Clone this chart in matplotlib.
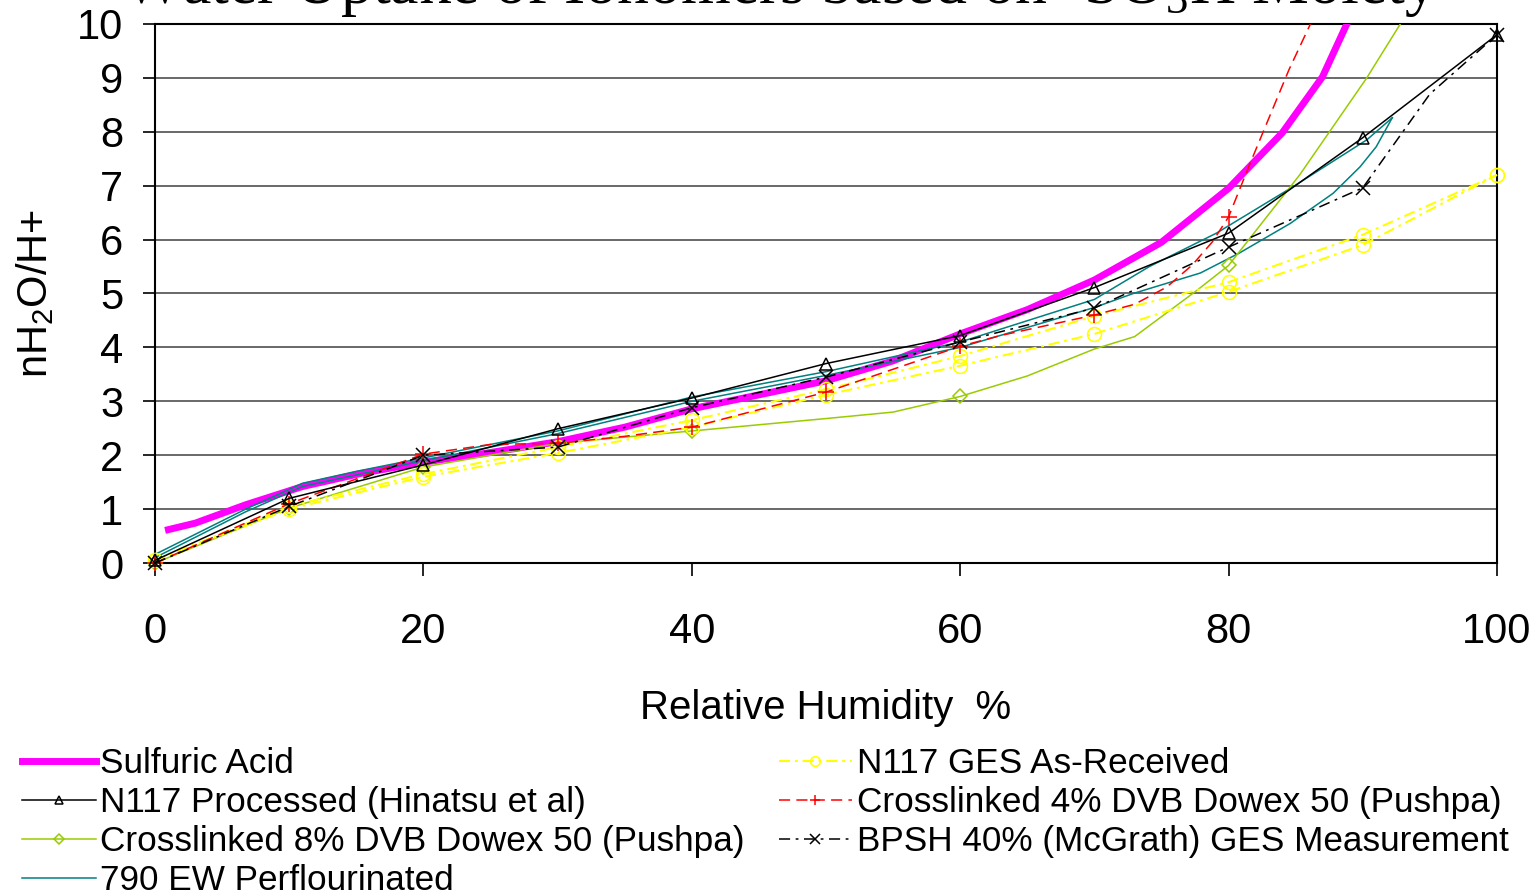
"""
Water uptake of ionomers (nH2O/H+ vs relative humidity).
"""
import matplotlib
matplotlib.use('Agg')
import matplotlib.pyplot as plt
from matplotlib.transforms import Bbox, TransformedBbox

plt.rcParams['font.family'] = ['Liberation Sans', 'DejaVu Sans']
plt.rcParams['lines.scale_dashes'] = False

# Datos
rh_acid = [1, 3, 6.75, 11, 15.3, 20, 25, 30, 35, 40, 45, 50, 55, 60, 65, 70, 75, 80, 84, 87, 89]
h2o_acid = [0.62, 0.74, 1.08, 1.42, 1.66, 1.87, 2.05, 2.25, 2.52, 2.86, 3.12, 3.38, 3.75, 4.25,
            4.7, 5.25, 5.95, 6.95, 7.98, 9.02, 10.1]

rh_n117 = [0, 10, 20, 30, 40, 50, 60, 70, 80, 90, 100]
h2o_n117 = [0.05, 1.2, 1.82, 2.49, 3.06, 3.7, 4.22, 5.11, 6.12, 7.89, 9.8]

rh_dvb8 = [0, 10, 20, 30, 40, 50, 55, 60, 65, 70, 73, 77.6, 80, 85.3, 90.3, 92.8]
h2o_dvb8 = [0, 1.02, 1.78, 2.22, 2.45, 2.68, 2.8, 3.09, 3.47, 3.97, 4.2, 5.05, 5.52, 7.2, 9.0, 10.0]
dvb8_marks = [0, 1, 2, 4, 7, 12]

rh_790_up = [0, 6.75, 11, 15, 20, 30, 40, 50, 60, 70, 74.1, 79.1, 84.8, 90.3, 92.2]
h2o_790_up = [0.16, 1.0, 1.48, 1.7, 1.95, 2.45, 3.08, 3.55, 4.1, 4.89, 5.5, 6.12, 6.98, 7.85, 8.26]
rh_790_down = [92.2, 91, 89.8, 87.8, 84.6, 80.8, 77.9, 72.9, 70, 60, 50, 40, 30, 20, 11, 6.75, 0]
h2o_790_down = [8.26, 7.72, 7.35, 6.86, 6.3, 5.75, 5.38, 5.0, 4.74, 4.0, 3.48, 3.0, 2.4, 1.9,
                1.42, 0.95, 0.1]

rh_ges = [0, 10, 20, 30, 40, 50, 60, 70, 80, 90, 100]
h2o_ges_a = [0.05, 1.05, 1.65, 2.15, 2.65, 3.22, 3.84, 4.58, 5.21, 6.09, 7.2]
h2o_ges_b = [0.05, 1.0, 1.6, 2.04, 2.52, 3.12, 3.66, 4.25, 5.03, 5.9, 7.2]

rh_dvb4 = [0, 10, 20, 25, 30, 35, 40, 50, 60, 63, 70, 73, 75.4, 77.3, 78.8, 80, 81.5, 83, 84.5, 86.1]
h2o_dvb4 = [0, 1.1, 2.02, 2.2, 2.22, 2.35, 2.52, 3.17, 4.02, 4.22, 4.6, 4.8, 5.12, 5.53, 5.96,
            6.42, 7.35, 8.25, 9.15, 10.0]
dvb4_marks = [0, 1, 2, 4, 6, 7, 8, 10, 15]

rh_bpsh = [0, 10, 20, 30, 40, 50, 60, 70, 80, 90, 95, 100]
h2o_bpsh = [0, 1.05, 2.0, 2.15, 2.88, 3.45, 4.1, 4.73, 5.86, 6.96, 8.7, 9.8]
bpsh_marks = [0, 1, 2, 3, 4, 5, 6, 7, 8, 9, 11]

fig = plt.figure(figsize=(15.35, 8.91), dpi=100)
ax = fig.add_axes([0.101, 0.3681, 0.8742, 0.605])
ax.set_xlim(0, 100)
ax.set_ylim(0, 10)

# recorte solo por arriba (los marcadores de los bordes se ven enteros)
clip = TransformedBbox(Bbox([[-5, -1], [105, 10]]), ax.transData)


def add_series(x, y, color, lw=1.1, dashes=None, marker=None, marks=None, ms=8, label=None):
    line, = ax.plot(x, y, color=color, lw=lw, marker=marker, markevery=marks, ms=ms,
                    markerfacecolor='none', markeredgecolor=color, markeredgewidth=1.1,
                    label=label, zorder=3)
    if dashes:
        line.set_dashes(dashes)
    line.set_clip_box(clip)
    return line


h_acid = add_series(rh_acid, h2o_acid, '#ff00ff', lw=5, label='Sulfuric Acid')
h_790 = add_series(rh_790_up, h2o_790_up, '#008080', label='790 EW Perflourinated')
add_series(rh_790_down, h2o_790_down, '#008080')
h_dvb8 = add_series(rh_dvb8, h2o_dvb8, '#99cc00', marker='D', marks=dvb8_marks, ms=7,
                    label='Crosslinked 8% DVB Dowex 50 (Pushpa)')
h_ges = add_series(rh_ges, h2o_ges_a, '#ffff00', lw=1.5, dashes=(8, 3.5, 2, 3.5), marker='o',
                   ms=10, label='N117 GES As-Received')
add_series(rh_ges, h2o_ges_b, '#ffff00', lw=1.5, dashes=(8, 3.5, 2, 3.5), marker='o', ms=10)
h_dvb4 = add_series(rh_dvb4, h2o_dvb4, '#ff0000', dashes=(8, 4.5), marker='+', marks=dvb4_marks,
                    ms=11, label='Crosslinked 4% DVB Dowex 50 (Pushpa)')
h_bpsh = add_series(rh_bpsh, h2o_bpsh, 'black', dashes=(8, 4, 2, 4), marker='x', marks=bpsh_marks,
                    ms=10, label='BPSH 40% (McGrath) GES Measurement')
h_n117 = add_series(rh_n117, h2o_n117, 'black', marker='^', ms=9,
                    label='N117 Processed (Hinatsu et al)')

# ejes y rejilla
ax.set_xticks(range(0, 101, 20))
ax.set_yticks(range(0, 11))
ax.yaxis.grid(True, color='#404040', lw=1.1)
ax.set_axisbelow(True)
for sp in ax.spines.values():
    sp.set_linewidth(1.5)
ax.tick_params(axis='both', direction='out', length=9, width=1.2, labelsize=30)
ax.tick_params(axis='x', pad=26)
ax.tick_params(axis='y', pad=14)

ax.set_xlabel('Relative Humidity  %', fontsize=29, labelpad=27)
ax.set_ylabel(r'nH$_\mathregular{2}$O/H+', fontsize=30, labelpad=15)

fig.text(0.508, 1 - 3 / 891, r'Water Uptake of Ionomers based on -SO$_\mathregular{3}$H Moiety',
         family=['Liberation Serif'], fontsize=46, ha='center', va='baseline')

handles = [h_acid, h_n117, h_dvb8, h_790, h_ges, h_dvb4, h_bpsh]
fig.legend(handles, [h.get_label() for h in handles], loc='upper left',
           bbox_to_anchor=(22 / 1535, (891 - 747) / 891), ncol=2, frameon=False, fontsize=25.3,
           handlelength=2.1, handletextpad=0.12, columnspacing=0.97, labelspacing=0.17,
           borderpad=0, borderaxespad=0, markerscale=0.7)

fig.savefig('out.png', dpi=100)
